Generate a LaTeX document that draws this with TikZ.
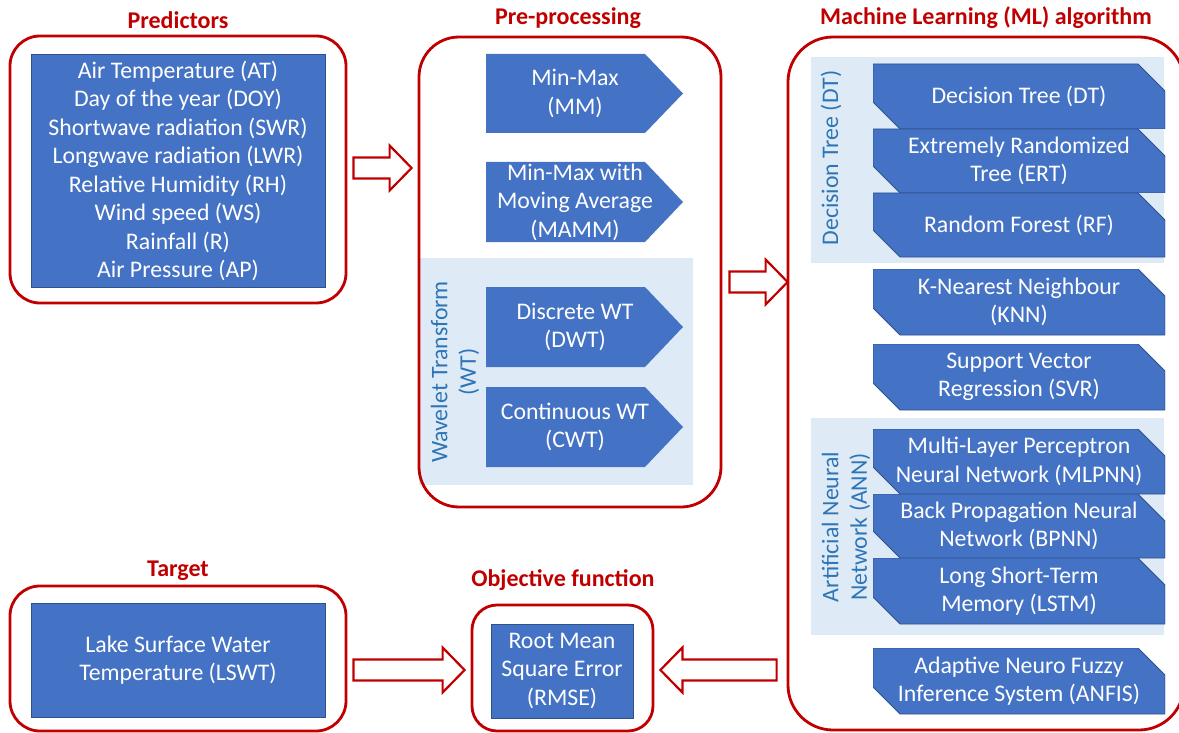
\documentclass[tikz,border=0pt]{standalone}
\usepackage{fontspec}
\setmainfont{Carlito}
\usetikzlibrary{calc}

\definecolor{boxred}{HTML}{C00000}
\definecolor{fillblue}{HTML}{4472C4}
\definecolor{edgeblue}{HTML}{2F528F}
\definecolor{paleblue}{HTML}{DEEBF7}
\definecolor{labelblue}{HTML}{2E75B6}

\newcommand\txtsize{\fontsize{23.8}{28.5}\selectfont}
\newcommand\ttlsize{\fontsize{24}{28}\selectfont\bfseries}
% shifts a line of text left inside the pentagon boxes
\newcommand\lsh{\hspace*{-19pt}}

% hollow block arrow from #1 to the tip #2
\newcommand\hollowarrow[2]{%
  \draw[hollow] let \p1=(#1), \p2=(#2), \p3=($(#2)!22pt!(#1)$) in
    (\x1,\y1+10.5pt) -- (\x3,\y1+10.5pt) -- (\x3,\y1+22.5pt) -- (\x2,\y1)
    -- (\x3,\y1-22.5pt) -- (\x3,\y1-10.5pt) -- (\x1,\y1-10.5pt) -- cycle;}

\tikzset{
  groupbox/.style={rectangle, draw=boxred, line width=2.8pt, rounded corners=#1, inner sep=0pt},
  title/.style={text=boxred, font=\ttlsize, inner sep=0pt},
  bluebox/.style={rectangle, fill=fillblue, draw=edgeblue, line width=0.8pt, text=white,
    font=\txtsize, align=center, inner sep=0pt},
  region/.style={rectangle, fill=paleblue, inner sep=0pt},
  sidelabel/.style={text=labelblue, font=\txtsize, align=center, rotate=90, inner sep=0pt},
  snip/.style={rectangle, minimum width=292pt, minimum height=#1, inner sep=0pt, align=center,
    text=white, font=\txtsize,
    path picture={\path[fill=fillblue, draw=edgeblue, line width=0.8pt]
      (path picture bounding box.north west)
      -- ([xshift=-27pt]path picture bounding box.north east)
      -- ([yshift=-27pt]path picture bounding box.north east)
      -- (path picture bounding box.south east)
      -- ([xshift=27pt]path picture bounding box.south west)
      -- ([yshift=27pt]path picture bounding box.south west) -- cycle;}},
  pent/.style={rectangle, minimum width=197pt, minimum height=#1, inner sep=0pt, align=center,
    text=white, font=\txtsize,
    path picture={\path[fill=fillblue]
      (path picture bounding box.north west)
      -- ([xshift=-38pt]path picture bounding box.north east)
      -- (path picture bounding box.east)
      -- ([xshift=-38pt]path picture bounding box.south east)
      -- (path picture bounding box.south west) -- cycle;}},
  hollow/.style={draw=boxred, fill=white, line width=2.2pt, line join=miter},
}

\begin{document}
\begin{tikzpicture}[x=1pt, y=-1pt]
\useasboundingbox (0,0) rectangle (1179,733);
\clip (0,0) rectangle (1179,733);

% shaded groups
\node[region, minimum width=274pt, minimum height=227pt] (wtreg) at (556,371.5) {};
\node[region, minimum width=353pt, minimum height=206pt] (dtreg) at (987.5,160) {};
\node[region, minimum width=353pt, minimum height=217pt] (annreg) at (987.5,526.5) {};

% red group frames
\node[groupbox=30pt, minimum width=336pt, minimum height=267pt] (pred) at (178,169.5) {};
\node[groupbox=40pt, minimum width=302pt, minimum height=470pt] (pre) at (570,272) {};
\node[groupbox=45pt, minimum width=396pt, minimum height=693pt] (ml) at (986,383.5) {};
\node[groupbox=30pt, minimum width=336pt, minimum height=145pt] (tgt) at (178,658.5) {};
\node[groupbox=25pt, minimum width=181pt, minimum height=126pt] (obj) at (562.5,668) {};

% titles
\node[title] (predtitle) at (178,20) {Predictors};
\node[title] (pretitle) at (568,18) {Pre-processing};
\node[title] (mltitle) at (986,18) {Machine Learning (ML) algorithm};
\node[title] (tgttitle) at (178,571) {Target};
\node[title] (objtitle) at (563,580) {Objective function};

% predictors
\node[bluebox, minimum width=294pt, minimum height=233pt] (predlist) at (178,171)
  {Air Temperature (AT)\\Day of the year (DOY)\\Shortwave radiation (SWR)\\
   Longwave radiation (LWR)\\Relative Humidity (RH)\\Wind speed (WS)\\Rainfall (R)\\
   Air Pressure (AP)};

% target and objective
\node[bluebox, minimum width=294pt, minimum height=114pt] (lswt) at (178,660)
  {Lake Surface Water\\Temperature (LSWT)};
\node[bluebox, minimum width=142pt, minimum height=94pt] (rmse) at (562,671)
  {Root Mean\\Square Error\\(RMSE)};

% pre-processing steps
\node[pent=79pt] (mm) at (584.5,93.5) {\lsh Min-Max\\\lsh(MM)};
\node[pent=80pt] (mamm) at (584.5,202) {\lsh Min-Max with\\\lsh Moving Average\\\lsh(MAMM)};
\node[pent=80pt] (dwt) at (584.5,327) {\lsh Discrete WT\\\lsh(DWT)};
\node[pent=80pt] (cwt) at (584.5,427) {\lsh Continuous WT\\\lsh(CWT)};
\node[sidelabel] (wtlabel) at (455,372) {Wavelet Transform\\(WT)};

% machine learning algorithms
\node[snip=65pt] (dt) at (1019,96.5) {Decision Tree (DT)};
\node[snip=64pt] (ert) at (1019,161) {Extremely Randomized\\Tree (ERT)};
\node[snip=64pt] (rf) at (1019,225) {Random Forest (RF)};
\node[snip=66pt] (knn) at (1019,302) {K-Nearest Neighbour\\(KNN)};
\node[snip=66pt] (svr) at (1019,377) {Support Vector\\Regression (SVR)};
\node[snip=65pt] (mlp) at (1019,461.5) {Multi-Layer Perceptron\\Neural Network (MLPNN)};
\node[snip=64pt] (bp) at (1019,526) {Back Propagation Neural\\Network (BPNN)};
\node[snip=66pt] (lstm) at (1019,591) {Long Short-Term\\Memory (LSTM)};
\node[snip=66pt] (anfis) at (1019,681) {Adaptive Neuro Fuzzy\\Inference System (ANFIS)};
\node[sidelabel] (dtlabel) at (831,158) {Decision Tree (DT)};
\node[sidelabel] (annlabel) at (846,527) {Artificial Neural\\Network (ANN)};

% flow arrows
\coordinate (a1s) at ($(pred.east)+(6,-1.5)$);
\coordinate (a1e) at ($(pre.west |- a1s)+(-6,0)$);
\coordinate (a2s) at ($(pre.east)+(7,10)$);
\coordinate (a2e) at ($(ml.west |- a2s)+(1,0)$);
\coordinate (a3s) at ($(tgt.east)+(6,11.5)$);
\coordinate (a3e) at ($(obj.west |- a3s)+(-6,0)$);
\coordinate (a4s) at ($(ml.west |- a3s)+(-10,0)$);
\coordinate (a4e) at ($(obj.east |- a3s)+(6,0)$);
\hollowarrow{a1s}{a1e}
\hollowarrow{a2s}{a2e}
\hollowarrow{a3s}{a3e}
\hollowarrow{a4s}{a4e}
\end{tikzpicture}
\end{document}
